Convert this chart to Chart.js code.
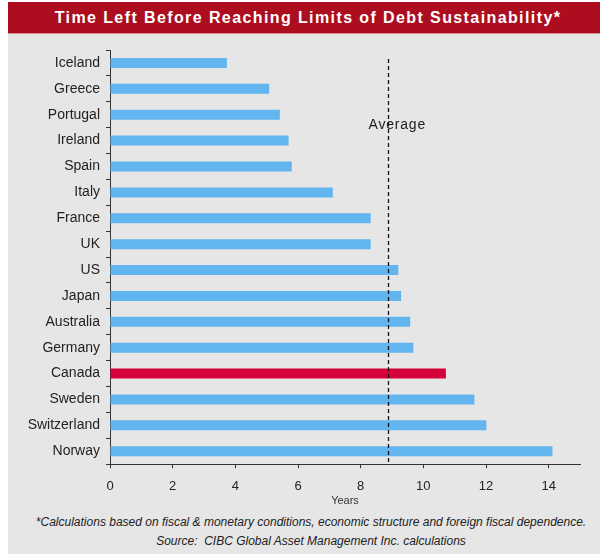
<!DOCTYPE html>
<html>
<head>
<meta charset="utf-8">
<script src="https://cdn.jsdelivr.net/npm/chart.js@4/dist/chart.umd.min.js"></script>
<style>
  html, body { margin: 0; padding: 0; background: #ffffff; }
  #wrap { position: absolute; left: 8px; top: 2px; width: 592px; height: 552px; background: #e6e6e6; }
  #title { position: absolute; left: 0; top: 0; width: 592px; height: 32px; background: #ad0e1f;
           border-bottom: 1px solid #d98a92;
           color: #ffffff; font: bold 16px "Liberation Sans", Arial, sans-serif; line-height: 32px;
           letter-spacing: 1.4px; text-align: center; padding-left: 8px; box-sizing: border-box; white-space: nowrap; }
  #chart { position: absolute; left: 0; top: 32px; }
  .note { position: absolute; left: 0; width: 592px; text-align: center; padding-left: 14px; box-sizing: border-box;
          font: italic 12px "Liberation Sans", Arial, sans-serif; color: #222; white-space: nowrap; }
</style>
</head>
<body>
<div id="wrap">
  <div id="title">Time Left Before Reaching Limits of Debt Sustainability*</div>
  <canvas id="chart" width="592" height="474"></canvas>
  <div class="note" style="top:513px">*Calculations based on fiscal &amp; monetary conditions, economic structure and foreign fiscal dependence.</div>
  <div class="note" style="top:532px">Source:&nbsp; CIBC Global Asset Management Inc. calculations</div>
</div>
<script>
const countries = ["Iceland","Greece","Portugal","Ireland","Spain","Italy","France","UK","US","Japan","Australia","Germany","Canada","Sweden","Switzerland","Norway"];
const yearsLeft = [3.73, 5.08, 5.42, 5.70, 5.80, 7.11, 8.32, 8.32, 9.20, 9.29, 9.58, 9.68, 10.72, 11.63, 12.01, 14.12];
const highlightCountry = ["Canada"];
const averageYears = [8.88];
const averageLabel = ["Average"];
const xTicks = [0, 2, 4, 6, 8, 10, 12, 14];
const axisTitle = ["Years"];

const barColors = countries.map(c => highlightCountry.includes(c) ? '#d3003a' : '#62b5ef');

const avgPlugin = {
  id: 'avgLine',
  afterDatasetsDraw(chart) {
    const {ctx, chartArea, scales} = chart;
    const x = Math.round(scales.x.getPixelForValue(averageYears[0])) + 0.5;
    const yTop = scales.y.getPixelForValue(-0.15);
    ctx.save();
    ctx.strokeStyle = '#111';
    ctx.lineWidth = 1.3;
    ctx.setLineDash([4, 3]);
    ctx.beginPath();
    ctx.moveTo(x, yTop);
    ctx.lineTo(x, chartArea.bottom);
    ctx.stroke();
    ctx.setLineDash([]);
    ctx.fillStyle = '#222';
    ctx.font = '14px "Liberation Sans", Arial, sans-serif';
    try { ctx.letterSpacing = '0.8px'; } catch (e) {}
    ctx.textAlign = 'left';
    ctx.textBaseline = 'middle';
    ctx.fillText(averageLabel[0], x - 20, scales.y.getPixelForValue(2.4));
    ctx.restore();
  }
};

new Chart(document.getElementById('chart'), {
  type: 'bar',
  data: {
    labels: countries,
    datasets: [{
      data: yearsLeft,
      backgroundColor: barColors,
      borderWidth: 0,
      barPercentage: 0.42,
      categoryPercentage: 0.92
    }]
  },
  options: {
    indexAxis: 'y',
    responsive: false,
    animation: false,
    devicePixelRatio: 1,
    layout: { padding: { top: 16, right: 20, bottom: 0, left: 0 } },
    plugins: { legend: { display: false }, tooltip: { enabled: false }, title: { display: false } },
    scales: {
      x: {
        min: 0, max: 15,
        afterBuildTicks(scale) { scale.ticks = xTicks.map(v => ({ value: v })); },
        grid: { drawOnChartArea: false, drawTicks: true, tickLength: 4, color: '#333' },
        border: { display: true, color: '#333', width: 1 },
        ticks: { color: '#222', padding: 10, font: { family: '"Liberation Sans", Arial, sans-serif', size: 13 } },
        title: { display: true, text: axisTitle[0], color: '#333', padding: { top: -9, bottom: 0 },
                 font: { family: '"Liberation Sans", Arial, sans-serif', size: 11 } }
      },
      y: {
        afterFit(scale) { scale.width = 102; },
        grid: { drawOnChartArea: false, drawTicks: true, tickLength: 4, color: '#333', offset: true },
        border: { display: true, color: '#333', width: 1 },
        ticks: { color: '#222', padding: 6, font: { family: '"Liberation Sans", Arial, sans-serif', size: 14 } }
      }
    }
  },
  plugins: [avgPlugin]
});
</script>
</body>
</html>
